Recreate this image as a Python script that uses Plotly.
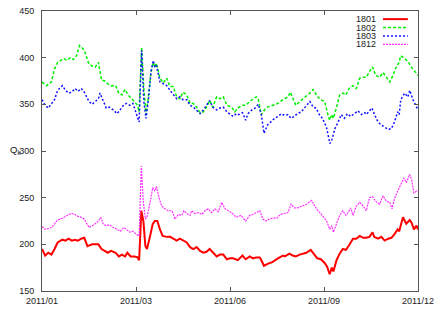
import plotly.graph_objects as go

# ---- data (x = trading-day index, tick labels are dates) ----
tick_vals = [0, 60, 120, 180, 240]
tick_text = ["2011/01", "2011/03", "2011/06", "2011/09", "2011/12"]

x_1802 = [0, 3, 6, 8, 10, 14, 16, 18, 20, 22, 24, 26, 27, 30, 32, 34, 36, 38, 40, 42, 44, 47, 49, 51, 53, 55, 57, 59, 61, 62,
          63.6, 65, 66.4, 68, 69.6, 71, 72, 73, 75.3, 77.4, 79.6, 81.7, 83.8, 86, 88, 90, 92.4, 94.5, 96.6, 98.7, 100.9, 103,
          105, 107, 109, 111.5, 113.6, 115.7, 118, 121, 123, 125, 128, 130, 132.6, 134.7, 136.8, 138, 140, 142, 144, 147,
          150.6, 153.8, 157, 158.5, 160, 162, 164.5, 166.6, 168.7, 171, 173, 174.5, 176, 178, 180.4, 182.5, 183.6, 185, 186,
          188, 190, 192, 194, 196, 198.5, 200.6, 202.8, 205, 207, 209, 211, 213, 215.5, 217.7, 219.8, 222, 224, 226, 227.7,
          229, 231.5, 233.6, 235.7, 238, 240]
y_1802 = [374, 370, 374, 388, 395, 399, 397, 400, 398, 402, 413, 409, 408, 393, 391, 390, 395, 376, 375, 372, 370, 370, 362,
          360, 366, 360, 356, 353, 349, 342, 411, 367, 339, 360, 385, 395, 390, 394, 378, 373, 378, 369, 369, 358, 356, 363,
          360, 351, 351, 347, 341, 342, 347, 354, 347, 358, 356, 358, 349, 347, 342, 346, 349, 349, 353, 356, 358, 356, 339,
          344, 347, 349, 351, 355, 358, 363, 356, 349, 353, 356, 358, 362, 366, 362, 358, 355, 353, 339, 333, 339, 335, 347,
          360, 362, 360, 367, 370, 367, 378, 379, 379, 385, 390, 381, 379, 384, 379, 374, 381, 390, 394, 402, 399, 396, 390,
          385, 381]

x_1803 = [0, 2, 4, 6, 8, 10, 13, 15, 17, 19, 21, 23, 25, 27, 30, 32, 34, 36, 37, 39, 41, 43, 45.5, 48, 50, 52, 54, 56, 58,
          60, 62, 63.6, 65, 66.4, 68, 69.6, 71, 72, 73, 75.3, 77.4, 79.6, 81.7, 83.8, 86, 88, 90, 92.4, 94.5, 96.6, 98.7,
          100.9, 103, 105, 107, 109, 111.5, 113.6, 115.7, 118, 120, 122, 124, 125.5, 128, 130, 131.5, 134, 136, 138, 140,
          141.7, 144, 146, 148.5, 150.6, 152.7, 155, 157, 159, 161, 163, 165.5, 168, 171, 173, 175, 177, 179, 181.5, 182.5,
          183.8, 185, 187, 189, 191, 193, 195, 197, 199.6, 201.7, 203.8, 206, 207, 210.6, 212, 214.5, 216.6, 218.7, 221, 223,
          225, 227, 228, 229, 231.5, 233.6, 234.7, 236.8, 239, 240]
y_1803 = [355, 349, 346, 351, 355, 365, 370, 365, 362, 363, 367, 364, 367, 363, 353, 350, 353, 356, 362, 353, 346, 347, 344,
          340, 344, 349, 351, 349, 351, 340, 331, 408, 353, 335, 356, 385, 397, 390, 392, 374, 372, 370, 365, 360, 356, 358,
          355, 355, 349, 347, 344, 340, 344, 349, 354, 347, 344, 346, 347, 342, 339, 337, 340, 339, 341, 333, 340, 344, 346,
          350, 339, 319, 328, 331, 335, 337, 340, 338, 339, 335, 337, 340, 342, 347, 353, 347, 346, 339, 335, 326, 318, 308,
          312, 324, 331, 339, 335, 340, 337, 340, 343, 339, 341, 339, 346, 340, 331, 328, 326, 323, 324, 331, 342, 339, 355,
          362, 358, 365, 355, 347, 344]

x_1801 = [0, 2, 4, 6, 8, 10, 13, 15, 17, 19, 21, 23, 25, 27, 29, 32, 34, 36, 38, 40, 42, 44, 47, 49, 51, 53, 54.5, 56.6, 59,
          61, 62, 63.4, 64.7, 66, 67, 69, 70.7, 72, 73.6, 75.3, 77, 79.6, 81.7, 83.8, 86, 88, 90, 92.4, 94.5, 96.6, 98.7,
          100.9, 103, 105, 107, 109, 111.5, 113.6, 115.7, 118, 120, 122, 125, 128, 130, 132.6, 134.7, 136.8, 139, 140, 141.7,
          144, 147, 150.6, 153.8, 155, 158, 160, 162, 164.5, 166.6, 168.7, 171.5, 173.6, 175.7, 178, 180.4, 182, 183.6, 185,
          186, 188, 190, 192, 194, 196, 198.5, 200.6, 202.8, 205, 207, 209, 211, 212, 214.5, 216.6, 218.7, 221, 223, 225,
          227, 228, 230.4, 232.5, 234.7, 236, 237.4, 239, 240]
y_1801 = [195, 188, 191, 189, 195, 202, 205, 204, 206, 204, 205, 204, 206, 207, 198, 200, 200, 200, 195, 193, 191, 193, 191,
          187, 189, 187, 191, 187, 187, 186, 183, 236, 225, 198, 195, 209, 222, 225, 225, 216, 209, 208, 208, 206, 204, 206,
          204, 202, 197, 195, 197, 193, 191, 192, 195, 191, 187, 189, 189, 184, 185, 185, 183, 188, 184, 187, 185, 186, 186,
          183, 177, 179, 181, 185, 188, 187, 190, 188, 187, 189, 190, 191, 194, 190, 185, 184, 180, 176, 168, 175, 171, 183,
          190, 195, 194, 199, 206, 206, 209, 207, 207, 208, 213, 208, 206, 208, 204, 206, 207, 211, 216, 214, 229, 222, 226,
          223, 216, 220, 216]

x_1812 = [0, 2, 4, 6, 8, 10, 13, 15, 17, 19, 21, 23, 25, 27, 30, 32, 34, 36, 37.5, 39, 41, 43, 45.5, 48, 50, 52, 54, 56, 58,
          60, 62, 63.4, 64.7, 66, 67, 69, 70.7, 72, 73, 75, 76.4, 78.5, 80.6, 83, 84.9, 87, 89.2, 90.6, 92.4, 94.5, 95.5,
          97.7, 99.8, 102, 104, 106, 108.3, 110.4, 112.5, 114.7, 116.8, 119, 121, 124, 127, 130, 132.6, 134.7, 136.8, 139,
          141, 143, 145, 147, 150, 152, 155, 157, 159, 161, 163, 166.6, 169, 172, 174, 176, 178, 180.4, 182, 183.6, 185, 186,
          188, 190, 192, 194, 195, 197, 198.5, 200.6, 202.8, 205, 207, 209, 211, 213, 215.5, 217.7, 219.8, 222, 223.4, 225,
          227, 229, 231, 232.5, 234.7, 236, 237.4, 239, 240]
y_1812 = [219, 216, 217, 218, 222, 226, 228, 230, 232, 233, 232, 230, 229, 227, 218, 220, 222, 225, 229, 222, 220, 221, 218,
          216, 214, 218, 216, 213, 214, 211, 209, 284, 245, 227, 229, 245, 261, 257, 262, 248, 241, 238, 236, 236, 227, 232,
          231, 236, 233, 231, 236, 233, 234, 232, 236, 238, 234, 238, 235, 245, 238, 236, 234, 229, 231, 225, 231, 232, 234,
          236, 227, 225, 227, 228, 228, 232, 233, 234, 243, 239, 239, 241, 243, 247, 241, 236, 233, 227, 224, 216, 220, 213,
          222, 231, 236, 231, 233, 239, 231, 241, 245, 241, 236, 250, 251, 246, 243, 252, 246, 245, 238, 249, 257, 264, 271,
          266, 275, 269, 255, 257, 258]

y_ticks = [150, 200, 250, 300, 350, 400, 450]
series_names = ["1801", "1802", "1803", "1812"]
colors = ["#ff0000", "#00f000", "#1010ff", "#ff30ff"]
dashes = ["solid", "3px,2px", "2px,2px", "2px,1px"]
widths = [2, 1.5, 1.5, 1.2]

fig = go.Figure()
for name, xs, ys, c, d, w in zip(series_names,
                                 [x_1801, x_1802, x_1803, x_1812],
                                 [y_1801, y_1802, y_1803, y_1812],
                                 colors, dashes, widths):
    fig.add_trace(go.Scatter(x=xs, y=ys, mode="lines", name=name,
                             line=dict(color=c, dash=d, width=w), showlegend=False))

font = "Liberation Sans, Arial, sans-serif"
axis_common = dict(showgrid=False, zeroline=False, showline=True, linecolor="#555", linewidth=1,
                   mirror="ticks", ticks="inside", ticklen=4, tickcolor="#555",
                   ticklabeloverflow="allow", automargin=False,
                   tickfont=dict(family=font, size=9, color="#222"))
fig.update_xaxes(range=[0, 240], tickmode="array", tickvals=tick_vals, ticktext=tick_text,
                 ticklabelstandoff=1, **axis_common)
fig.update_yaxes(range=[150, 450], tickmode="array", tickvals=y_ticks, ticklabelstandoff=5, **axis_common)

# gnuplot-style legend: text right-aligned, line sample to the right
leg_y = [0.971, 0.941, 0.911, 0.881]
for name, c, d, w, yy in zip(series_names, colors, dashes, widths, leg_y):
    fig.add_annotation(xref="paper", yref="paper", x=0.8936, y=yy, text=name, showarrow=False,
                       xanchor="right", yanchor="middle", font=dict(family=font, size=9, color="#222"))
    fig.add_shape(type="line", xref="paper", yref="paper", x0=0.907, x1=0.973, y0=yy, y1=yy,
                  line=dict(color=c, dash=d, width=w))

fig.add_annotation(xref="paper", yref="paper", x=-0.089, y=0.505, text="Q<sub>k</sub>", showarrow=False,
                   xanchor="left", yanchor="middle", borderpad=0,
                   font=dict(family=font, size=9.5, color="#111"))

# the page shows the figure with an 8px body offset; size/margins compensate for that
fig.update_layout(width=434, height=301, margin=dict(l=34, r=24, t=3, b=18, autoexpand=False),
                  paper_bgcolor="white", plot_bgcolor="white")

fig.write_html("out.html")
